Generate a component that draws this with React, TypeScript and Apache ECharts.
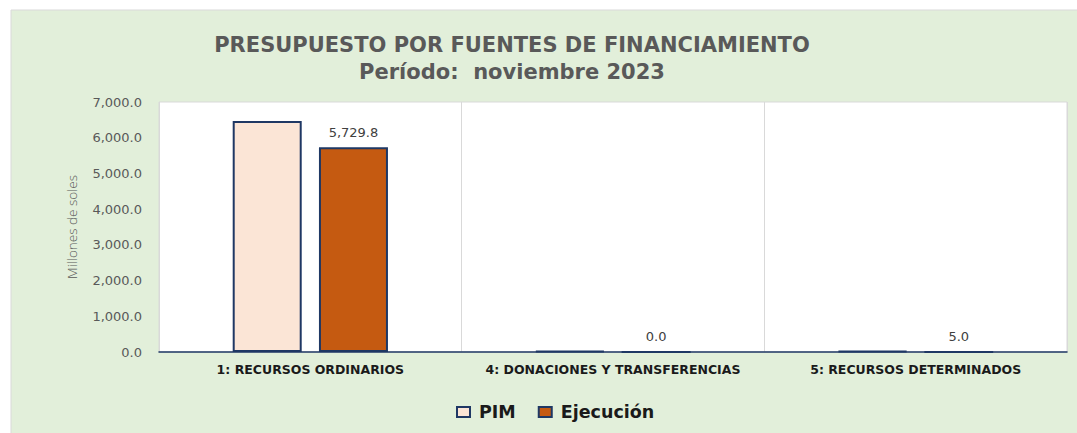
import React, { useEffect, useRef } from "react";
import * as echarts from "echarts";

const categories = ["1: RECURSOS ORDINARIOS", "4: DONACIONES Y TRANSFERENCIAS", "5: RECURSOS DETERMINADOS"];
const pimValues = [6465.0, 25.0, 22.0];
const ejecucionValues = [5729.8, 0.0, 5.0];
const yTicks = { min: 0, max: 7000, interval: 1000 };

const fmt = (v: number) =>
  Number(v).toLocaleString("en-US", { minimumFractionDigits: 1, maximumFractionDigits: 1 });

export default function App() {
  const ref = useRef<HTMLDivElement>(null);
  useEffect(() => {
    document.body.style.margin = "0";
    const chart = echarts.init(ref.current!, null, { renderer: "svg" });
    const wide = "'DejaVu Sans', 'Open Sans', sans-serif";
    const light = "'Open Sans', 'Noto Sans', sans-serif";
    chart.setOption({
      animation: false,
      backgroundColor: "#ffffff",
      graphic: [
        {
          type: "rect",
          shape: { x: 11, y: 10, width: 1080, height: 440 },
          style: { fill: "#E2EFDA", stroke: "#D9D9D9", lineWidth: 1 },
          z: -10,
          silent: true,
        },
      ],
      title: {
        text: "PRESUPUESTO POR FUENTES DE FINANCIAMIENTO\nPeríodo:  noviembre 2023",
        left: 512,
        textAlign: "center",
        top: 31,
        padding: 0,
        textStyle: {
          fontFamily: wide,
          fontWeight: "bold",
          fontSize: 21,
          color: "#595959",
          lineHeight: 27,
        },
      },
      legend: {
        data: ["PIM", "Ejecución"],
        left: 451,
        top: 398,
        icon: "rect",
        itemWidth: 13,
        itemHeight: 10,
        itemGap: 22,
        textStyle: {
          fontFamily: wide,
          fontWeight: "bold",
          fontSize: 17.5,
          color: "#1a1a1a",
          padding: [0, 0, 0, 4],
        },
      },
      grid: {
        left: 159,
        right: 10,
        top: 102,
        bottom: 81,
        show: true,
        backgroundColor: "#ffffff",
        borderColor: "#D9D9D9",
        borderWidth: 1,
      },
      xAxis: {
        type: "category",
        data: categories,
        axisLine: { lineStyle: { color: "#1F3864", width: 1.5 } },
        axisTick: { show: false },
        splitLine: { show: true, interval: 0, lineStyle: { color: "#D9D9D9", width: 1 } },
        axisLabel: {
          interval: 0,
          hideOverlap: false,
          fontFamily: wide,
          fontWeight: "bold",
          fontSize: 12.5,
          color: "#1a1a1a",
          margin: 11,
        },
      },
      yAxis: {
        type: "value",
        min: yTicks.min,
        max: yTicks.max,
        interval: yTicks.interval,
        name: "Millones de soles",
        nameLocation: "middle",
        nameGap: 80,
        nameTextStyle: { fontFamily: light, fontSize: 13.5, color: "#595959", fontWeight: 300 },
        axisLine: { show: false },
        axisTick: { show: false },
        splitLine: { show: false },
        axisLabel: {
          fontFamily: wide,
          fontSize: 13,
          color: "#595959",
          margin: 17,
          formatter: (v: number) => fmt(v),
        },
      },
      series: [
        {
          name: "PIM",
          type: "bar",
          data: pimValues,
          barWidth: 69,
          barGap: "25%",
          itemStyle: { color: "#FBE5D6", borderColor: "#1F3864", borderWidth: 2 },
        },
        {
          name: "Ejecución",
          type: "bar",
          data: ejecucionValues,
          barWidth: 69,
          itemStyle: { color: "#C55A11", borderColor: "#1F3864", borderWidth: 2 },
          label: {
            show: true,
            position: "top",
            distance: 8,
            fontFamily: wide,
            fontSize: 13,
            color: "#404040",
            formatter: (p: any) => fmt(p.value),
          },
        },
      ],
    });
    return () => chart.dispose();
  }, []);
  return <div ref={ref} style={{ width: 1077, height: 433 }} />;
}
